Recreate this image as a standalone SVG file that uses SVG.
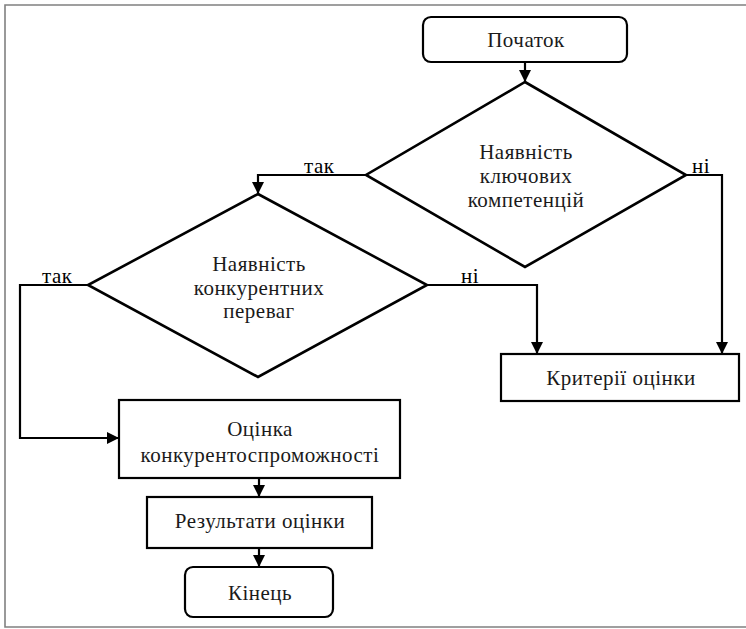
<svg xmlns="http://www.w3.org/2000/svg" width="746" height="629" viewBox="0 0 746 629">
<defs>
<style>
.box{fill:#fff;stroke:#000;stroke-width:2.2}
.dia{fill:#fff;stroke:#000;stroke-width:2.6}
.t{font-family:'Liberation Serif','DejaVu Serif',serif;font-size:21px;letter-spacing:0.5px;fill:#1a1a1a;text-anchor:middle}
.lbl{font-family:'Liberation Serif','DejaVu Serif',serif;font-size:21px;letter-spacing:0.5px;fill:#000}
.c{fill:none;stroke:#000;stroke-width:2.2}
</style>
<marker id="ah" viewBox="0 0 10 10" refX="10" refY="5" markerWidth="12" markerHeight="13" markerUnits="userSpaceOnUse" orient="auto">
<path d="M0,0 L10,5 L0,10 z" fill="#000"/>
</marker>
</defs>
<rect width="746" height="629" fill="#fff"/>
<path d="M746,5 H5 V627 H746" fill="none" stroke="#808080" stroke-width="1.6"/>

<g id="connectors">
<path class="c" d="M525,62 V82" marker-end="url(#ah)"/>
<path class="c" d="M366,175 H258 V194" marker-end="url(#ah)"/>
<path class="c" d="M686,175 H722 V354" marker-end="url(#ah)"/>
<path class="c" d="M88,285 H20 V438 H119" marker-end="url(#ah)"/>
<path class="c" d="M427,285 H537 V354" marker-end="url(#ah)"/>
<path class="c" d="M259,478 V497" marker-end="url(#ah)"/>
<path class="c" d="M259,548 V567" marker-end="url(#ah)"/>
<text class="lbl" x="304" y="173">так</text>
<text class="lbl" x="692" y="173">ні</text>
<text class="lbl" x="42" y="283">так</text>
<text class="lbl" x="461" y="283">ні</text>
</g>

<g id="start">
<rect class="box" x="423" y="17" width="204" height="45" rx="8"/>
<text class="t" x="526" y="47">Початок</text>
</g>

<g id="decision1">
<polygon class="dia" points="525,82 686,175 525,267 366,175"/>
<text class="t" x="526" y="159">Наявність</text>
<text class="t" x="526" y="183">ключових</text>
<text class="t" x="526" y="207">компетенцій</text>
</g>

<g id="decision2">
<polygon class="dia" points="258,194 427,285 258,377 88,285"/>
<text class="t" x="259" y="271">Наявність</text>
<text class="t" x="259" y="295">конкурентних</text>
<text class="t" x="259" y="318">переваг</text>
</g>

<g id="criteria">
<rect class="box" x="501" y="354" width="238" height="47"/>
<text class="t" x="621" y="385">Критерії оцінки</text>
</g>

<g id="evaluation">
<rect class="box" x="119" y="400" width="281" height="78"/>
<text class="t" x="260" y="436">Оцінка</text>
<text class="t" x="260" y="462">конкурентоспроможності</text>
</g>

<g id="results">
<rect class="box" x="147" y="497" width="225" height="51"/>
<text class="t" x="260" y="528">Результати оцінки</text>
</g>

<g id="end">
<rect class="box" x="185" y="567" width="148" height="50" rx="8"/>
<text class="t" x="260" y="600">Кінець</text>
</g>
</svg>
